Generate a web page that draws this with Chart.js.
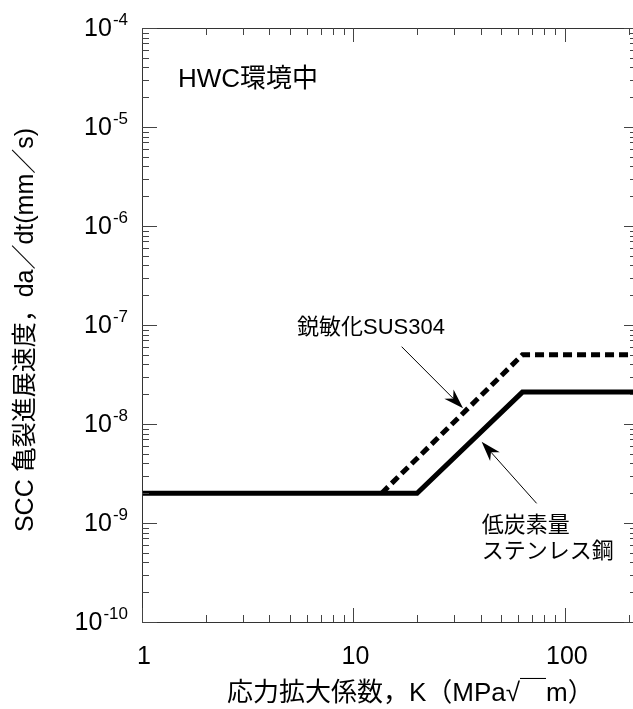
<!DOCTYPE html>
<html>
<head>
<meta charset="utf-8">
<script src="https://cdn.jsdelivr.net/npm/chart.js@4"></script>
<style>
html,body{margin:0;padding:0;background:#fff;}
#wrap{width:633px;height:709px;}
</style>
</head>
<body>
<div id="wrap"><canvas id="c" width="633" height="709"></canvas></div>
<script>
// ---- data ----
const solidK = [1, 20, 63, 210];                  // 低炭素量ステンレス鋼
const solidRate = [2e-9, 2e-9, 2.1e-8, 2.1e-8];
const dashK = [13.6, 63, 210];                    // 鋭敏化SUS304
const dashRate = [2e-9, 5e-8, 5e-8];
const xTickValues = [1, 10, 100];
const xTickLabels = ['1', '10', '100'];
const yTickExponents = [-10, -9, -8, -7, -6, -5, -4];

const FONT = "'Liberation Sans', 'Noto Sans CJK JP', sans-serif";
const CJK = "'Liberation Sans', 'Noto Sans CJK JP', sans-serif";

const toPts = (xs, ys) => xs.map((v, i) => ({x: v, y: ys[i]}));

// annotation definitions (data coordinates)
const notes = [
  {text: 'HWC環境中', x: 1.48, y: 2.99e-5, size: 26},
  {text: '鋭敏化SUS304', x: 5.41, y: 9.33e-8, size: 22},
  {text: '低炭素量', x: 40.4, y: 9.33e-10, size: 22},
  {text: 'ステンレス鋼', x: 40.4, y: 5.09e-10, size: 22}
];
const arrows = [
  {from: [16.9, 6.04e-8], to: [33.0, 1.44e-8]},
  {from: [73.5, 1.58e-9], to: [40.4, 6.62e-9]}
];

const decor = {
  id: 'decor',
  afterDatasetsDraw(chart) {
    const {ctx, chartArea: a, scales: {x, y}} = chart;
    ctx.save();
    // frame
    ctx.strokeStyle = '#333';
    ctx.lineWidth = 1;
    ctx.beginPath();
    ctx.moveTo(a.left + 0.5, a.top + 0.5);
    ctx.lineTo(a.left + 0.5, a.bottom + 0.5);
    ctx.lineTo(a.right, a.bottom + 0.5);
    ctx.moveTo(a.left + 0.5, a.top + 0.5);
    ctx.lineTo(a.right, a.top + 0.5);
    ctx.stroke();

    // x ticks
    ctx.strokeStyle = '#444';
    ctx.beginPath();
    for (let d = 0; d <= 2; d++) {
      for (let m = 1; m <= 9; m++) {
        const v = m * Math.pow(10, d);
        if (v > x.max) break;
        const px = Math.round(x.getPixelForValue(v)) + 0.5;
        const len = m === 1 ? 14 : 7;
        ctx.moveTo(px, a.bottom); ctx.lineTo(px, a.bottom - len);
        ctx.moveTo(px, a.top); ctx.lineTo(px, a.top + len);
      }
    }
    // y ticks
    for (let p = -10; p <= -4; p++) {
      for (let m = 1; m <= 9; m++) {
        const v = m * Math.pow(10, p);
        if (v > y.max * 1.0001) break;
        const py = Math.round(y.getPixelForValue(v)) + 0.5;
        const lenL = m === 1 ? 15 : 7;
        const lenR = m === 1 ? 9 : 3;
        ctx.moveTo(a.left, py); ctx.lineTo(a.left + lenL, py);
        ctx.moveTo(a.right, py); ctx.lineTo(a.right - lenR, py);
      }
    }
    ctx.stroke();

    // y tick labels 10^p
    ctx.fillStyle = '#000';
    yTickExponents.forEach(p => {
      const py = y.getPixelForValue(Math.pow(10, p));
      ctx.font = '17px ' + FONT;
      ctx.textAlign = 'right';
      ctx.textBaseline = 'alphabetic';
      const sup = String(p);
      const sw = ctx.measureText(sup).width;
      ctx.fillText(sup, 128, py - 3);
      ctx.font = '25px ' + FONT;
      ctx.fillText('10', 128 - sw - 1, py + 8);
    });

    // x tick labels
    ctx.font = '25px ' + FONT;
    ctx.textAlign = 'center';
    ctx.textBaseline = 'alphabetic';
    xTickValues.forEach((v, i) => {
      ctx.fillText(xTickLabels[i], x.getPixelForValue(v) + 2, 664);
    });

    // axis titles
    ctx.font = '26px ' + CJK;
    ctx.textAlign = 'left';
    ctx.textBaseline = 'middle';
    ctx.fillText('応力拡大係数，K（MPa√￣m）', 227, 694);

    ctx.save();
    ctx.font = '25px ' + CJK;
    ctx.translate(26, 330);
    ctx.rotate(-Math.PI / 2);
    ctx.textAlign = 'center';
    ctx.textBaseline = 'middle';
    ctx.fillText('SCC 亀裂進展速度，da／dt(mm／s)', 0, 0);
    ctx.restore();

    // annotations
    notes.forEach(n => {
      ctx.font = n.size + 'px ' + CJK;
      ctx.textAlign = 'left';
      ctx.textBaseline = 'middle';
      ctx.fillText(n.text, x.getPixelForValue(n.x), y.getPixelForValue(n.y));
    });

    arrows.forEach(ar => {
      const x0 = x.getPixelForValue(ar.from[0]), y0 = y.getPixelForValue(ar.from[1]);
      const x1 = x.getPixelForValue(ar.to[0]), y1 = y.getPixelForValue(ar.to[1]);
      const ang = Math.atan2(y1 - y0, x1 - x0);
      const L = 20, W = 6.5, N = 14;
      ctx.strokeStyle = '#000';
      ctx.lineWidth = 1;
      ctx.beginPath();
      ctx.moveTo(x0, y0);
      ctx.lineTo(x1 - Math.cos(ang) * N, y1 - Math.sin(ang) * N);
      ctx.stroke();
      const c = Math.cos(ang), s = Math.sin(ang);
      const bx = x1 - c * L, by = y1 - s * L;
      ctx.fillStyle = '#000';
      ctx.beginPath();
      ctx.moveTo(x1, y1);
      ctx.lineTo(bx - s * W, by + c * W);
      ctx.lineTo(x1 - c * N, y1 - s * N);
      ctx.lineTo(bx + s * W, by - c * W);
      ctx.closePath();
      ctx.fill();
    });
    ctx.restore();
  }
};

new Chart(document.getElementById('c'), {
  type: 'scatter',
  data: {
    datasets: [
      {
        label: '鋭敏化SUS304',
        data: toPts(dashK, dashRate),
        showLine: true,
        borderColor: '#000',
        borderWidth: 5,
        borderDash: [9, 5],
        pointRadius: 0,
        fill: false
      },
      {
        label: '低炭素量ステンレス鋼',
        data: toPts(solidK, solidRate),
        showLine: true,
        borderColor: '#000',
        borderWidth: 5,
        pointRadius: 0,
        fill: false
      }
    ]
  },
  options: {
    responsive: false,
    animation: false,
    devicePixelRatio: 1,
    layout: {padding: {left: 0, top: 28, right: 0, bottom: 0}},
    plugins: {legend: {display: false}, tooltip: {enabled: false}},
    scales: {
      x: {
        type: 'logarithmic', min: 1, max: 210,
        grid: {display: false}, border: {display: false},
        ticks: {display: false},
        afterFit(s) { s.height = 87; s.paddingLeft = 0; s.paddingRight = 0; }
      },
      y: {
        type: 'logarithmic', min: 1e-10, max: 1e-4,
        grid: {display: false}, border: {display: false},
        ticks: {display: false},
        afterFit(s) { s.width = 142; s.paddingTop = 0; s.paddingBottom = 0; }
      }
    }
  },
  plugins: [decor]
});
</script>
</body>
</html>
